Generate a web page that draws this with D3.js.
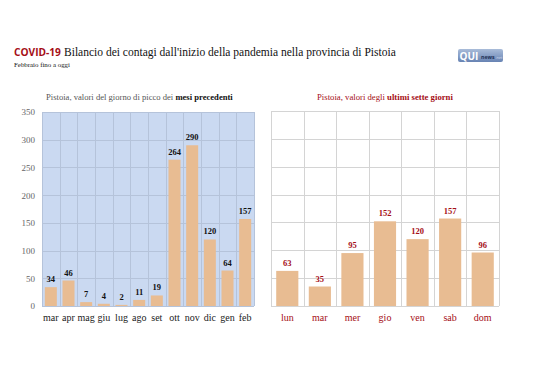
<!DOCTYPE html>
<html><head><meta charset="utf-8">
<script src="https://cdn.jsdelivr.net/npm/d3@7"></script>
<style>
html,body{margin:0;padding:0;background:#fff;}
svg{display:block;}
</style></head>
<body>
<svg id="c" width="538" height="380"></svg>
<script>
const monthCats = ["mar","apr","mag","giu","lug","ago","set","ott","nov","dic","gen","feb"];
const monthVals = [34,46,7,4,2,11,19,264,290,120,64,157];
const dayCats = ["lun","mar","mer","gio","ven","sab","dom"];
const dayVals = [63,35,95,152,120,157,96];
const yTicks = [0,50,100,150,200,250,300,350];

const svg = d3.select("#c");
const serif = "Liberation Serif, DejaVu Serif, serif";
const sans = "Open Sans, Liberation Sans, sans-serif";
const barColor = "#e8bc92";
const red = "#a50e16";

function fit(sel, w){
  const n = sel.node();
  const cur = n.getComputedTextLength();
  const fs = parseFloat(sel.attr("font-size"));
  sel.attr("font-size", (fs*w/cur).toFixed(2));
}

// Title
const t1 = svg.append("text").attr("x",14).attr("y",56).attr("font-size",12)
  .attr("font-family",sans).attr("font-weight","bold").attr("fill",red).text("COVID-19");
fit(t1, 47);
const t2 = svg.append("text").attr("x",64).attr("y",56).attr("font-size",12)
  .attr("font-family",serif).attr("fill","#111").text("Bilancio dei contagi dall'inizio della pandemia nella provincia di Pistoia");
fit(t2, 332);
const t3 = svg.append("text").attr("x",14).attr("y",67).attr("font-family",serif).attr("font-size",7).attr("fill","#111").text("Febbraio fino a oggi");
fit(t3, 56);

// Logo
const defs = svg.append("defs");
const grad = defs.append("linearGradient").attr("id","lg").attr("x1",0).attr("y1",0).attr("x2",0).attr("y2",1);
grad.append("stop").attr("offset","0%").attr("stop-color","#a9bcd9");
grad.append("stop").attr("offset","100%").attr("stop-color","#6783b3");
const lg = svg.append("g");
lg.append("rect").attr("x",458).attr("y",49).attr("width",45).attr("height",13).attr("rx",2).attr("fill","url(#lg)");
lg.append("text").attr("x",459.5).attr("y",59.5).attr("font-family",sans).attr("font-weight","bold")
  .attr("font-size",10).attr("fill","#fff").text("QUI");
lg.append("text").attr("x",481).attr("y",59).attr("font-family",sans).attr("font-weight","bold")
  .attr("font-size",5.2).attr("fill","#1d2f55").text("news");
lg.append("text").attr("x",495.5).attr("y",59).attr("font-family",sans)
  .attr("font-size",3.8).attr("fill","#d6dff0").text(".net");

function chart(cfg){
  const x = d3.scaleBand().domain(cfg.cats).range([cfg.x0,cfg.x1]).paddingInner(0.32).paddingOuter(0.16);
  const xg = d3.scaleBand().domain(cfg.cats).range([cfg.x0,cfg.x1]);
  const y = d3.scaleLinear().domain([0,350]).range([306,cfg.y1]);
  const g = svg.append("g");
  g.append("rect").attr("x",cfg.x0).attr("y",cfg.y1).attr("width",cfg.x1-cfg.x0).attr("height",306-cfg.y1).attr("fill",cfg.bg);
  g.selectAll(".hg").data(yTicks).join("line")
    .attr("x1",cfg.x0).attr("x2",cfg.x1).attr("y1",d=>Math.round(y(d))+0.5).attr("y2",d=>Math.round(y(d))+0.5)
    .attr("stroke",cfg.grid).attr("stroke-width",1);
  const vx = cfg.cats.map(c=>xg(c)).concat([cfg.x1]);
  g.selectAll(".vg").data(vx).join("line")
    .attr("x1",d=>Math.round(d)+0.5).attr("x2",d=>Math.round(d)+0.5).attr("y1",cfg.y1).attr("y2",306)
    .attr("stroke",cfg.grid).attr("stroke-width",1);
  g.selectAll(".bar").data(cfg.vals).join("rect")
    .attr("x",(d,i)=>x(cfg.cats[i])).attr("width",x.bandwidth())
    .attr("y",d=>y(d)).attr("height",d=>306-y(d)).attr("fill",barColor);
  g.selectAll(".vl").data(cfg.vals).join("text")
    .attr("x",(d,i)=>x(cfg.cats[i])+x.bandwidth()/2).attr("y",d=>y(d)-5)
    .attr("text-anchor","middle").attr("font-family",serif).attr("font-weight","bold")
    .attr("font-size",8.5).attr("fill",cfg.vcol).text(d=>d);
  const xa = g.append("g").attr("transform","translate(0,306)")
    .call(d3.axisBottom(xg).tickSize(0).tickPadding(8));
  xa.select(".domain").remove();
  xa.selectAll("text").attr("font-family",serif).attr("font-size",10).attr("fill",cfg.xcol);
  if(cfg.yaxis){
    const ya = g.append("g").attr("transform",`translate(${cfg.x0},0)`)
      .call(d3.axisLeft(y).tickValues(yTicks).tickSize(0).tickPadding(7));
    ya.select(".domain").remove();
    ya.selectAll("text").attr("font-family",serif).attr("font-size",9).attr("fill","#666");
  }
  const st = svg.append("text").attr("x",cfg.tx).attr("y",100).attr("font-family",serif).attr("font-size",9).attr("fill",cfg.tcol);
  st.append("tspan").text(cfg.t1);
  st.append("tspan").attr("font-weight","bold").attr("fill",cfg.tbcol).text(cfg.t2);
  fit(st, cfg.tw);
}

chart({cats:monthCats, vals:monthVals, x0:42, x1:254, y1:112, bg:"#cad9f1", grid:"#b5c3da",
  vcol:"#111", xcol:"#222", yaxis:true,
  tx:46, tw:187, t1:"Pistoia, valori del giorno di picco dei ", t2:"mesi precedenti", tcol:"#555", tbcol:"#111"});
chart({cats:dayCats, vals:dayVals, x0:271, x1:499, y1:111, bg:"#ffffff", grid:"#d4d4d4",
  vcol:red, xcol:red, yaxis:false,
  tx:317, tw:136, t1:"Pistoia, valori degli ", t2:"ultimi sette giorni", tcol:red, tbcol:red});
</script>
</body></html>
